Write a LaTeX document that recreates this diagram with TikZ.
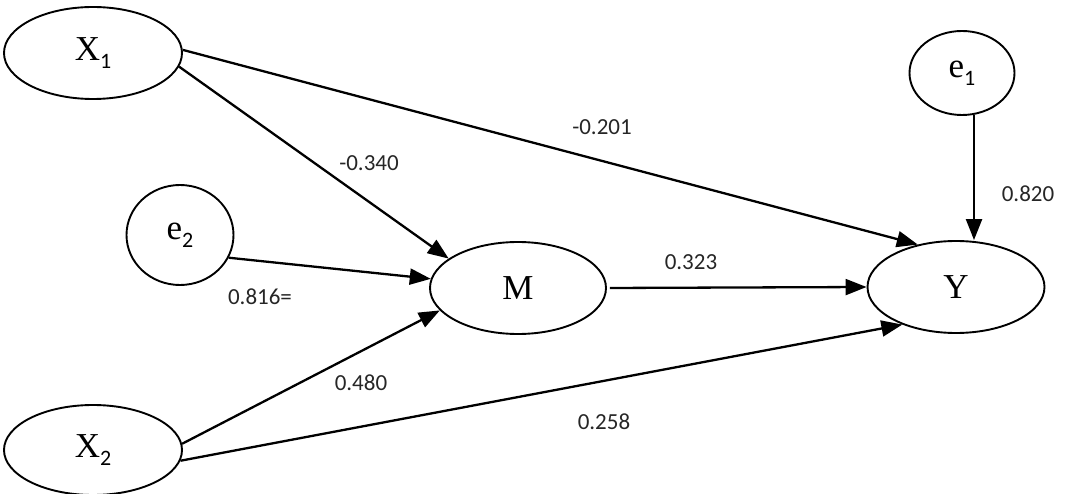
\documentclass[tikz,border=0pt]{standalone}
\usepackage{fontspec}
\setmainfont{Liberation Serif}
\newfontfamily\labfont{Carlito}
\usetikzlibrary{shapes.geometric,arrows.meta,calc}
\newcommand\mysub[1]{\raisebox{-0.22em}{\labfont\fontsize{22}{22}\selectfont #1}}
\begin{document}
\begin{tikzpicture}[x=1pt,y=-1pt,
  var/.style={draw,ellipse,line width=1.9pt,inner sep=0pt,font=\fontsize{35}{35}\selectfont},
  arr/.style={line width=2.3pt,-{Triangle[length=21pt,width=16pt]}},
  lbl/.style={font=\labfont\fontsize{23}{23}\selectfont,inner sep=0pt,text=black!85}]
\useasboundingbox (0,0) rectangle (1068,494);
\node[var,minimum width=178,minimum height=92] (X1) at (93,53) {X\mysub{1}};
\node[var,minimum width=105,minimum height=84] (e1) at (962,73) {e\mysub{1}};
\node[var,minimum width=107,minimum height=100] (e2) at (180,235) {e\mysub{2}};
\node[var,minimum width=176,minimum height=92] (M) at (518,288) {M};
\node[var,minimum width=177,minimum height=92] (Y) at (956,287) {Y};
\node[var,minimum width=178,minimum height=90] (X2) at (93,450) {X\mysub{2}};
% connectors
\draw[arr] (X1.2) -- (Y.132);
\draw[arr] (X1.-9) -- (M.157);
\draw[arr] (e2.-25) -- (M.174);
\draw[arr] (X2.4) -- (M.196);
\draw[arr] (X2.-7) -- (Y.215);
\draw[arr,shorten <=3pt] (M.east) -- (Y.west);
\coordinate (e1y) at (e1.-74 |- Y.north);
\draw[arr] (e1.-74) -- (e1y);
% labels
\node[lbl] (l1) at (602,127) {-0.201};
\node[lbl] (l2) at (369,163) {-0.340};
\node[lbl] (l3) at (1028,194) {0.820};
\node[lbl] (l4) at (691,262) {0.323};
\node[lbl] (l5) at (260,297) {0.816=};
\node[lbl] (l6) at (361,383) {0.480};
\node[lbl] (l7) at (604,422) {0.258};
\end{tikzpicture}
\end{document}
